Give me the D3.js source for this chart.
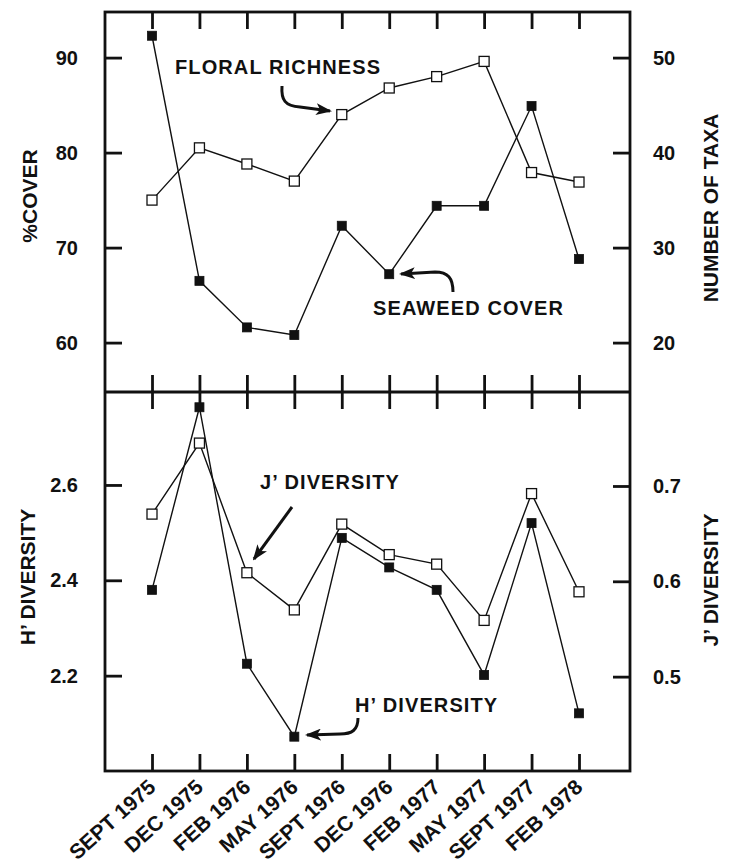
<!DOCTYPE html>
<html>
<head>
<meta charset="utf-8">
<script src="https://cdn.jsdelivr.net/npm/d3@7"></script>
<style>
  html, body { margin: 0; padding: 0; background: #ffffff; }
  svg { display: block; }
  text { font-family: "Liberation Sans", Arial, Helvetica, sans-serif; font-weight: bold; fill: #111; }
</style>
</head>
<body>
<svg id="chart" width="730" height="867"></svg>
<script>
// ---- Data ----
const dates = ["SEPT 1975","DEC 1975","FEB 1976","MAY 1976","SEPT 1976","DEC 1976","FEB 1977","MAY 1977","SEPT 1977","FEB 1978"];
const seaweedCover = [92.3, 66.5, 61.6, 60.8, 72.3, 67.2, 74.4, 74.4, 84.9, 68.8];   // %COVER (left, top)
const floralRichness = [35.0, 40.5, 38.8, 37.0, 44.0, 46.8, 48.0, 49.6, 37.9, 36.9]; // NUMBER OF TAXA (right, top)
const hDiversity = [2.38, 2.763, 2.225, 2.072, 2.489, 2.427, 2.38, 2.2015, 2.52, 2.121]; // H' (left, bottom)
const jDiversity = [0.6705, 0.745, 0.609, 0.570, 0.660, 0.628, 0.618, 0.559, 0.692, 0.589]; // J' (right, bottom)
const coverTicks = [60, 70, 80, 90];
const taxaTicks = [20, 30, 40, 50];
const hTicks = [2.2, 2.4, 2.6];
const jTicks = [0.5, 0.6, 0.7];

// ---- Layout ----
const svg = d3.select("#chart");
const L = 105, R = 630, T = 12, M = 392, B = 771;
const TICK = 17;

const x = d3.scalePoint().domain(dates).range([L + 47, R - 51]);
const yCover = d3.scaleLinear().domain([54.8, 94.8]).range([M, T]);
const yTaxa = d3.scaleLinear().domain([14.8, 54.8]).range([M, T]);
const yH = d3.scaleLinear().domain([2.0, 2.795]).range([B, M]);
const yJ = d3.scaleLinear().domain([0.401, 0.7986]).range([B, M]);

function styleAxis(g) {
  g.select(".domain").remove();
  g.selectAll(".tick line").attr("stroke", "#111").attr("stroke-width", 2.8);
  g.selectAll(".tick text").style("font-size", "20px").attr("fill", "#111");
}

// x ticks on each panel edge (inward)
[[T, d3.axisTop], [M, d3.axisBottom], [M, d3.axisTop], [B, d3.axisBottom]].forEach(([yy, ax]) => {
  svg.append("g").attr("transform", `translate(0,${yy})`)
    .call(ax(x).tickSize(-TICK).tickSizeOuter(0).tickFormat(""))
    .call(styleAxis);
});

// y axes
svg.append("g").attr("transform", `translate(${L},0)`)
  .call(d3.axisLeft(yCover).tickValues(coverTicks).tickSize(-TICK).tickPadding(27).tickFormat(d3.format("d")))
  .call(styleAxis);
svg.append("g").attr("transform", `translate(${R},0)`)
  .call(d3.axisRight(yTaxa).tickValues(taxaTicks).tickSize(-TICK).tickPadding(23).tickFormat(d3.format("d")))
  .call(styleAxis);
svg.append("g").attr("transform", `translate(${L},0)`)
  .call(d3.axisLeft(yH).tickValues(hTicks).tickSize(-TICK).tickPadding(27).tickFormat(d3.format(".1f")))
  .call(styleAxis);
svg.append("g").attr("transform", `translate(${R},0)`)
  .call(d3.axisRight(yJ).tickValues(jTicks).tickSize(-TICK).tickPadding(23).tickFormat(d3.format(".1f")))
  .call(styleAxis);

// frame
svg.append("rect").attr("x", L).attr("y", T).attr("width", R - L).attr("height", B - T)
  .attr("fill", "none").attr("stroke", "#111").attr("stroke-width", 2.8);
svg.append("line").attr("x1", L).attr("x2", R).attr("y1", M).attr("y2", M)
  .attr("stroke", "#111").attr("stroke-width", 2.8);

// series
function drawSeries(values, yScale, filled) {
  const pts = values.map((v, i) => [x(dates[i]), yScale(v)]);
  svg.append("path").attr("d", d3.line()(pts))
    .attr("fill", "none").attr("stroke", "#111").attr("stroke-width", 1.4);
  const s = filled ? 9 : 10;
  svg.append("g").selectAll("rect").data(pts).join("rect")
    .attr("x", d => d[0] - s / 2).attr("y", d => d[1] - s / 2)
    .attr("width", s).attr("height", s)
    .attr("fill", filled ? "#111" : "#fff")
    .attr("stroke", "#111").attr("stroke-width", filled ? 0.8 : 1.3);
}
drawSeries(floralRichness, yTaxa, false);
drawSeries(seaweedCover, yCover, true);
drawSeries(jDiversity, yJ, false);
drawSeries(hDiversity, yH, true);

// axis titles
function vTitle(txt, xx, yy) {
  svg.append("text").attr("transform", `translate(${xx},${yy}) rotate(-90)`)
    .attr("text-anchor", "middle").style("font-size", "21px").text(txt);
}
vTitle("%COVER", 37, 196);
vTitle("NUMBER OF TAXA", 718, 208);
vTitle("H\u2019 DIVERSITY", 35, 577);
vTitle("J\u2019 DIVERSITY", 718, 580);

// date labels
svg.append("g").selectAll("text").data(dates).join("text")
  .attr("transform", d => `translate(${x(d) + 5},${789}) rotate(-42)`)
  .attr("text-anchor", "end").style("font-size", "21px").text(d => d);

// annotations
function label(txt, xx, yy) {
  svg.append("text").attr("x", xx).attr("y", yy).style("font-size", "20px")
    .style("letter-spacing", "1.1px").text(txt);
}
label("FLORAL RICHNESS", 175, 74);
label("SEAWEED COVER", 373, 315);
label("J\u2019 DIVERSITY", 260, 489);
label("H\u2019 DIVERSITY", 355, 712);

// arrows
svg.append("defs").append("marker").attr("id", "ah")
  .attr("viewBox", "0 0 16 12").attr("refX", 14).attr("refY", 6)
  .attr("markerWidth", 16).attr("markerHeight", 12).attr("markerUnits", "userSpaceOnUse")
  .attr("orient", "auto")
  .append("path").attr("d", "M0,0 L16,6 L0,12 L4,6 Z").attr("fill", "#111");

function arrow(d) {
  svg.append("path").attr("d", d).attr("fill", "none").attr("stroke", "#111")
    .attr("stroke-width", 3).attr("marker-end", "url(#ah)");
}
arrow("M282,86 C281,100 285,106 300,107 L330,111");
arrow("M453,292 C453,278 448,272 435,272 L401,274");
arrow("M292,507 L254,559");
arrow("M358,718 C358,730 352,734 340,734 L307,735");
</script>
</body>
</html>
